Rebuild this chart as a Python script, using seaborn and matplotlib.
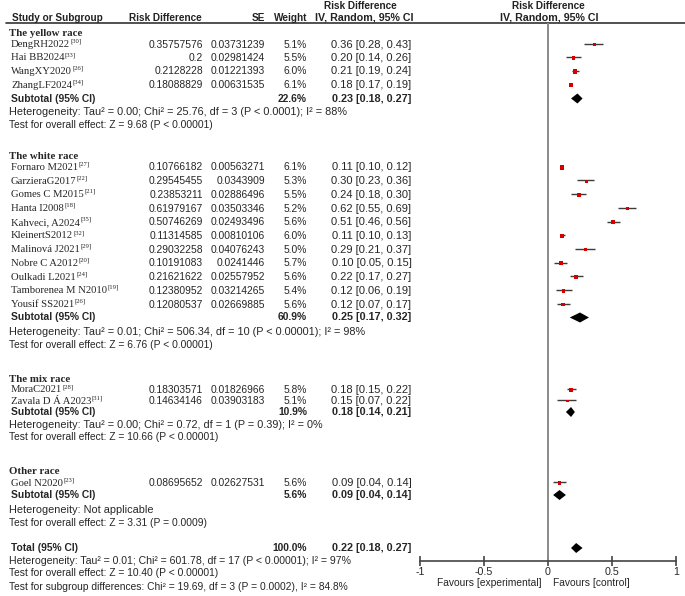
import numpy as np
import pandas as pd
import seaborn as sns
import matplotlib.pyplot as plt

# ---- data ----
groups = ["The yellow race", "The white race", "The mix race", "Other race"]

study = ["DengRH2022", "Hai BB2024", "WangXY2020", "ZhangLF2024",
         "Fornaro M2021", "GarzieraG2017", "Gomes C M2015", "Hanta I2008",
         "Kahveci, A2024", "KleinertS2012", "Malinová J2021", "Nobre C A2012",
         "Oulkadi L2021", "Tamborenea M N2010", "Yousif SS2021",
         "MoraC2021", "Zavala D Á A2023",
         "Goel N2020"]
ref = ["30", "33", "26", "34",
       "27", "22", "21", "18", "35", "32", "29", "20", "24", "19", "26",
       "28", "31",
       "23"]
rd_raw = ["0.35757576", "0.2", "0.2128228", "0.18088829",
          "0.10766182", "0.29545455", "0.23853211", "0.61979167", "0.50746269",
          "0.11314585", "0.29032258", "0.10191083", "0.21621622", "0.12380952",
          "0.12080537",
          "0.18303571", "0.14634146",
          "0.08695652"]
se_raw = ["0.03731239", "0.02981424", "0.01221393", "0.00631535",
          "0.00563271", "0.0343909", "0.02886496", "0.03503346", "0.02493496",
          "0.00810106", "0.04076243", "0.0241446", "0.02557952", "0.03214265",
          "0.02669885",
          "0.01826966", "0.03903183",
          "0.02627531"]
weight = [5.1, 5.5, 6.0, 6.1,
          6.1, 5.3, 5.5, 5.2, 5.6, 6.0, 5.0, 5.7, 5.6, 5.4, 5.6,
          5.8, 5.1,
          5.6]
est = [0.36, 0.20, 0.21, 0.18,
       0.11, 0.30, 0.24, 0.62, 0.51, 0.11, 0.29, 0.10, 0.22, 0.12, 0.12,
       0.18, 0.15,
       0.09]
lo = [0.28, 0.14, 0.19, 0.17,
      0.10, 0.23, 0.18, 0.55, 0.46, 0.10, 0.21, 0.05, 0.17, 0.06, 0.07,
      0.15, 0.07,
      0.04]
hi = [0.43, 0.26, 0.24, 0.19,
      0.12, 0.36, 0.30, 0.69, 0.56, 0.13, 0.37, 0.15, 0.27, 0.19, 0.17,
      0.22, 0.22,
      0.14]

sub_weight = [22.6, 60.9, 10.9, 5.6]
sub_est = [0.23, 0.25, 0.18, 0.09]
sub_lo = [0.18, 0.17, 0.14, 0.04]
sub_hi = [0.27, 0.32, 0.21, 0.14]
sub_het = ["Heterogeneity: Tau² = 0.00; Chi² = 25.76, df = 3 (P < 0.0001); I² = 88%",
           "Heterogeneity: Tau² = 0.01; Chi² = 506.34, df = 10 (P < 0.00001); I² = 98%",
           "Heterogeneity: Tau² = 0.00; Chi² = 0.72, df = 1 (P = 0.39); I² = 0%",
           "Heterogeneity: Not applicable"]
sub_test = ["Test for overall effect: Z = 9.68 (P < 0.00001)",
            "Test for overall effect: Z = 6.76 (P < 0.00001)",
            "Test for overall effect: Z = 10.66 (P < 0.00001)",
            "Test for overall effect: Z = 3.31 (P = 0.0009)"]

tot_weight = 100.0
tot_est, tot_lo, tot_hi = 0.22, 0.18, 0.27
tot_lines = ["Heterogeneity: Tau² = 0.01; Chi² = 601.78, df = 17 (P < 0.00001); I² = 97%",
             "Test for overall effect: Z = 10.40 (P < 0.00001)",
             "Test for subgroup differences: Chi² = 19.69, df = 3 (P = 0.0002), I² = 84.8%"]

# ---- row layout (pixel rows of the figure, top = 0) ----
y_study = [44.5, 58, 71.5, 85,
           167.5, 181.2, 194.9, 208.6, 222.3, 236.0, 249.7, 263.4, 277.1, 290.8, 304.5,
           390, 401,
           483]
y_head = [33, 156.5, 380, 472]
y_sub = [98.5, 317.5, 412, 495]
y_het = [112, 332, 425, 510]
y_test = [125.5, 345, 437.5, 523.5]
y_tot = 548
y_tot_lines = [561, 573.5, 587]

W, H = 685, 596
sns.set_theme(style="white")
plt.rcParams["font.family"] = ["Liberation Sans", "DejaVu Sans"]

fig = plt.figure(figsize=(W / 100, H / 100), dpi=100)
tab = fig.add_axes([0, 0, 1, 1])
tab.set_xlim(0, W)
tab.set_ylim(H, 0)
tab.axis("off")

FS = 7.4      # table numbers / test lines
FCI = 8.0     # CI column
FHET = 7.8    # heterogeneity lines
FN = 7.7      # study names (serif)
SERIF = ["Liberation Serif", "DejaVu Serif"]
fig.canvas.draw()
renderer = fig.canvas.get_renderer()

# header
hd = dict(fontsize=7.2, fontweight="bold", va="center", color="#222222")
tab.text(12, 18, "Study or Subgroup", ha="left", **hd)
tab.text(129, 18, "Risk Difference", ha="left", **hd)
tab.text(265, 18, "SE", ha="right", **hd)
tab.text(307, 18, "Weight", ha="right", **hd)
tab.text(360, 6, "Risk Difference", ha="center", **hd)
tab.text(364, 18, "IV, Random, 95% CI", ha="center", **dict(hd, fontsize=7.7))
tab.text(548, 6, "Risk Difference", ha="center", **hd)
tab.text(549, 18, "IV, Random, 95% CI", ha="center", **dict(hd, fontsize=7.7))
tab.plot([6, W], [23, 23], color="#333333", lw=1.2)

# study rows
for i, name in enumerate(study):
    y = y_study[i]
    t = tab.text(11, y, name, fontsize=FN, family=SERIF, ha="left", va="center")
    bb = t.get_window_extent(renderer=renderer)
    tab.text(bb.x1 + 0.5, y - 3.2, "[" + ref[i] + "]", fontsize=4.8, family=SERIF,
             ha="left", va="center")
    tab.text(203, y, rd_raw[i], fontsize=FS, ha="right", va="center")
    tab.text(265, y, se_raw[i], fontsize=FS, ha="right", va="center")
    tab.text(307, y, f"{weight[i]:.1f}%", fontsize=FS, ha="right", va="center")
    tab.text(411.5, y, f"{est[i]:.2f} [{lo[i]:.2f}, {hi[i]:.2f}]", fontsize=FCI,
             ha="right", va="center")

# subgroup rows
for g, gname in enumerate(groups):
    tab.text(9, y_head[g], gname, fontsize=FN + 0.1, family=SERIF, fontweight="bold",
             ha="left", va="center")
    tab.text(11, y_sub[g], "Subtotal (95% CI)", fontsize=FS, fontweight="bold", ha="left", va="center")
    tab.text(307, y_sub[g], f"{sub_weight[g]:.1f}%", fontsize=FS, fontweight="bold", ha="right", va="center")
    tab.text(411.5, y_sub[g], f"{sub_est[g]:.2f} [{sub_lo[g]:.2f}, {sub_hi[g]:.2f}]",
             fontsize=FCI - 0.2, fontweight="bold", ha="right", va="center")
    tab.text(9, y_het[g], sub_het[g], fontsize=FHET, ha="left", va="center")
    tab.text(9, y_test[g], sub_test[g], fontsize=FS, ha="left", va="center")

# total rows
tab.text(11, y_tot, "Total (95% CI)", fontsize=FS, fontweight="bold", ha="left", va="center")
tab.text(307, y_tot, f"{tot_weight:.1f}%", fontsize=FS, fontweight="bold", ha="right", va="center")
tab.text(411.5, y_tot, f"{tot_est:.2f} [{tot_lo:.2f}, {tot_hi:.2f}]",
         fontsize=FCI - 0.2, fontweight="bold", ha="right", va="center")
for line, y, fs in zip(tot_lines, y_tot_lines, [FHET - 0.2, FS, FS]):
    tab.text(9, y, line, fontsize=fs, ha="left", va="center")

# ---- forest panel ----
top, bottom = 23, 561
ax = fig.add_axes([420 / W, (H - bottom) / H, 256 / W, (bottom - top) / H])
ax.set_facecolor("none")

df = pd.DataFrame({"est": est, "lo": lo, "hi": hi, "weight": weight, "y": y_study})
ax.hlines(df["y"] - 0.8, df["lo"], df["hi"], color="#3c3c3c", lw=1.0, zorder=2)
sns.scatterplot(data=df, x="est", y="y", size="weight", sizes=(4, 10), marker="s",
                color="#d40000", linewidth=0, legend=False, ax=ax, zorder=3)

dh = 5.0
diamonds = list(zip(sub_est, sub_lo, sub_hi, y_sub)) + [(tot_est, tot_lo, tot_hi, y_tot)]
for e, l, h, y in diamonds:
    ax.fill([l, e, h, e], [y, y - dh, y, y + dh], color="black", lw=0, zorder=3)

ax.axvline(0, color="#8a8a8a", lw=1.4, zorder=1)
ax.set_xlim(-1, 1)
ax.set_ylim(bottom, top)
ax.set_xticks([-1, -0.5, 0, 0.5, 1])
ax.set_xticklabels(["-1", "-0.5", "0", "0.5", "1"])
ax.set_yticks([])
ax.set_xlabel("")
ax.set_ylabel("")
for s in ["top", "left", "right"]:
    ax.spines[s].set_visible(False)
ax.spines["bottom"].set_color("#444444")
ax.spines["bottom"].set_linewidth(1.2)
ax.tick_params(axis="x", direction="inout", length=7, width=1.2, color="#444444",
               labelsize=FS + 0.3, pad=1, bottom=True)

tab.text(542, 583, "Favours [experimental]", fontsize=FS, ha="right", va="center")
tab.text(553, 583, "Favours [control]", fontsize=FS, ha="left", va="center")

fig.savefig("out.png", dpi=100)
